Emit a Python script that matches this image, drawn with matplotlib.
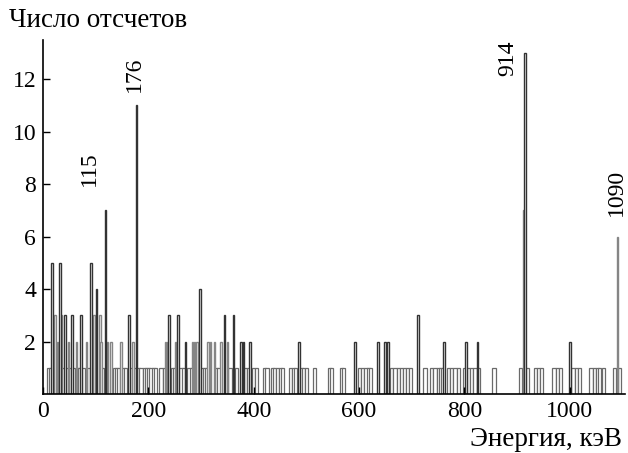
import matplotlib
matplotlib.use('Agg')
import matplotlib.pyplot as plt

# Peaks of the dark series (energy keV, counts)
dark_e = [17, 32, 42, 55, 72, 91, 102, 118, 163, 178, 239, 256, 271, 298, 345, 362,
          376, 380, 393, 486, 592, 636, 649, 655, 712, 761, 803, 825, 915, 1000]
dark_n = [5, 5, 3, 3, 3, 5, 4, 7, 3, 11, 3, 3, 2, 4, 3, 3,
          2, 2, 2, 2, 2, 2, 2, 2, 3, 2, 2, 2, 13, 2]

# Peaks of the gray series
gray_e = [23, 28, 34, 49, 63, 82, 97, 108, 110, 123, 129, 148, 171, 232, 236, 252,
          284, 287, 292, 313, 318, 325, 338, 350, 912, 1090]
gray_n = [3, 2, 3, 2, 2, 2, 3, 3, 2, 2, 2, 2, 2, 2, 2, 2,
          2, 2, 2, 2, 2, 2, 2, 2, 7, 6]

# Bins with a single count
one_e = [10, 15, 38, 45, 52, 58, 66, 70, 77, 86, 113, 135, 140, 144, 152, 157, 168, 174,
         181, 186, 193, 196, 200, 205, 210, 214, 224, 230, 245, 250, 262, 266, 277, 282,
         302, 306, 310, 330, 334, 355, 368, 385, 390, 400, 405, 420, 425, 435, 440, 445,
         450, 455, 470, 475, 480, 490, 495, 500, 515, 543, 547, 566, 571, 600, 606, 613,
         618, 622, 662, 668, 674, 680, 686, 692, 698, 725, 738, 744, 750, 755, 759, 770,
         776, 782, 788, 800, 808, 814, 820, 826, 856, 906, 920, 935, 940, 946, 970, 976,
         982, 1006, 1012, 1018, 1040, 1046, 1052, 1056, 1064, 1085, 1094]
one_n = [1] * len(one_e)

# Peak labels (text, energy position, height)
peak_txt = ['115', '176', '914', '1090']
peak_x = [89, 173, 882, 1089]
peak_y = [8.6, 12.2, 12.8, 7.7]

plt.rcParams['font.family'] = ['Liberation Serif', 'DejaVu Serif']

fig = plt.figure(figsize=(6.28, 4.53), dpi=100)
ax = fig.add_axes([0.0685, 0.130, 0.927, 0.782])

ax.bar(one_e, one_n, width=6, facecolor='white', edgecolor='#6a6a6a', linewidth=0.9)
ax.bar(gray_e, gray_n, width=2.5, facecolor='white', edgecolor='#858585', linewidth=1.0)
ax.bar(dark_e, dark_n, width=2.5, facecolor='white', edgecolor='#333333', linewidth=1.0)

for t, x, y in zip(peak_txt, peak_x, peak_y):
    ax.text(x, y, t, rotation=90, ha='center', va='center', fontsize=17)

ax.set_xlim(0, 1105)
ax.set_ylim(0, 13.5)
ax.set_xticks([0, 200, 400, 600, 800, 1000])
ax.set_yticks([2, 4, 6, 8, 10, 12])
ax.tick_params(direction='in', length=5, width=1, labelsize=17, pad=5)
ax.spines['top'].set_visible(False)
ax.spines['right'].set_visible(False)
ax.spines['left'].set_linewidth(1.2)
ax.spines['bottom'].set_linewidth(1.2)

fig.text(0.015, 0.955, 'Число отсчетов', fontsize=19.5, ha='left', va='center')
fig.text(0.99, 0.03, 'Энергия, кэВ', fontsize=19.5, ha='right', va='center')

fig.savefig('out.png', dpi=100)
